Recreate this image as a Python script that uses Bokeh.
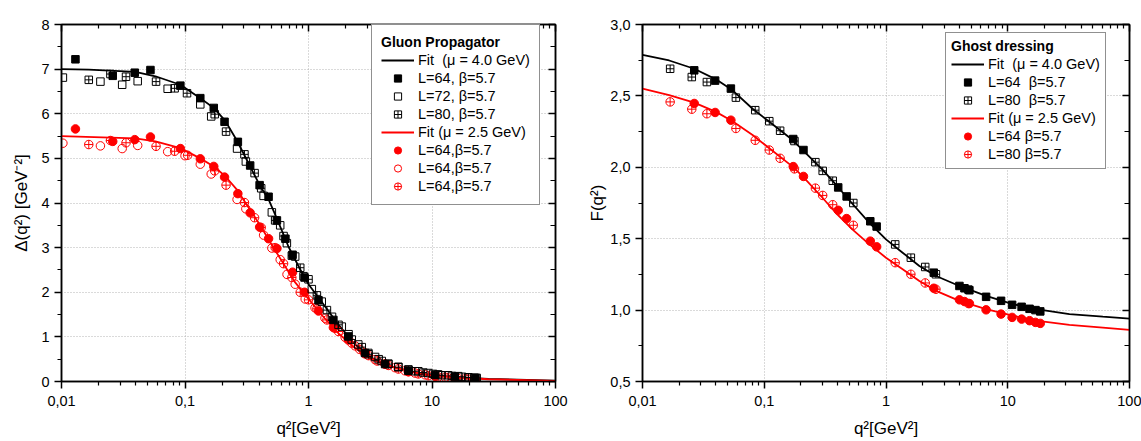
from bokeh.plotting import figure
from bokeh.models import (FixedTicker, LogAxis, LinearAxis, CustomJSTickFormatter,
                          Legend, LegendItem, Range1d)
from bokeh.layouts import row
from bokeh.embed import file_html
from bokeh.resources import INLINE

FONT = "Liberation Sans"
BLACK = "#000000"
RED = "#ff0000"

# ---------------- Gluon propagator (left panel) ----------------
fit_g40_q2 = [0.01, 0.01663, 0.0396, 0.0576, 0.0917, 0.133, 0.171, 0.212, 0.263, 0.327,
              0.406, 0.475, 0.555, 0.689, 0.857, 1.0, 1.28, 1.75, 2.38, 3.25, 4.43,
              8.24, 15.3, 28.6, 100]
fit_g40_d = [7.0, 6.99, 6.94, 6.84, 6.65, 6.35, 6.13, 5.84, 5.40, 4.89,
             4.38, 4.08, 3.65, 3.02, 2.51, 2.18, 1.78, 1.27, 0.83, 0.53, 0.35,
             0.17, 0.10, 0.06, 0.02]

fit_g25_q2 = [0.01, 0.0396, 0.0576, 0.0917, 0.133, 0.171, 0.212, 0.263, 0.327, 0.406,
              0.505, 0.647, 0.780, 1.0, 1.28, 1.75, 2.38, 3.25, 4.43, 8.24, 15.3, 28.6, 100]
fit_g25_d = [5.50, 5.45, 5.38, 5.23, 5.00, 4.82, 4.60, 4.30, 3.90, 3.50,
             3.06, 2.58, 2.22, 1.85, 1.49, 1.08, 0.75, 0.50, 0.35, 0.17, 0.10, 0.05, 0.015]

g64_q2 = [0.01297, 0.0260, 0.0392, 0.0525, 0.0917, 0.133, 0.171, 0.209, 0.268, 0.337,
          0.402, 0.475, 0.555, 0.650, 0.743, 0.929, 1.205, 1.59, 2.10, 2.87, 4.17,
          6.44, 10.6, 15.3, 22.5]
g64_d = [7.22, 6.85, 6.92, 6.98, 6.63, 6.35, 6.13, 5.82, 5.37, 4.84,
         4.40, 4.14, 3.61, 3.20, 2.84, 2.33, 1.82, 1.38, 1.01, 0.64, 0.39,
         0.24, 0.146, 0.11, 0.08]

g72_q2 = [0.01026, 0.02066, 0.031, 0.0414, 0.0724, 0.133, 0.163, 0.264, 0.311, 0.433,
          0.505, 0.590, 0.668, 0.780, 0.911, 1.064, 1.28, 1.55, 1.86, 2.11, 2.53,
          3.05, 3.46, 3.92, 4.43, 5.34, 6.44, 7.75, 9.33, 11.2, 13.5, 16.3, 19.7, 23.0]
g72_d = [6.81, 6.72, 6.65, 6.73, 6.56, 6.21, 5.94, 5.22, 4.93, 4.16,
         3.79, 3.50, 3.10, 2.80, 2.36, 2.07, 1.79, 1.45, 1.23, 1.06, 0.83,
         0.64, 0.55, 0.46, 0.40, 0.33, 0.27, 0.23, 0.19, 0.16, 0.14, 0.12, 0.095, 0.08]

g80_q2 = [0.01663, 0.0249, 0.0333, 0.0583, 0.0824, 0.1038, 0.174, 0.215, 0.303, 0.366,
          0.414, 0.537, 0.628, 0.733, 0.857, 1.0, 1.17, 1.41, 1.75, 2.24, 2.70,
          3.06, 3.70, 4.43, 5.34, 6.44, 7.28, 8.5, 10.2, 11.97, 14.5, 17.5, 19.7, 22.0]
g80_d = [6.76, 6.89, 6.83, 6.72, 6.57, 6.46, 5.99, 5.60, 5.09, 4.67,
         4.33, 3.61, 3.26, 2.82, 2.55, 2.29, 1.93, 1.60, 1.27, 0.94, 0.77,
         0.61, 0.50, 0.39, 0.32, 0.26, 0.23, 0.20, 0.17, 0.14, 0.125, 0.105, 0.09, 0.082]

r64_q2 = [0.01297, 0.0260, 0.0392, 0.0525, 0.0917, 0.133, 0.171, 0.209, 0.268, 0.337,
          0.402, 0.475, 0.555, 0.743, 0.929, 1.205, 1.59, 2.10, 2.87, 4.17, 6.44,
          10.6, 15.3, 22.5]
r64_d = [5.66, 5.38, 5.42, 5.48, 5.22, 4.99, 4.82, 4.58, 4.21, 3.78,
         3.46, 3.20, 2.98, 2.45, 2.00, 1.58, 1.21, 0.93, 0.62, 0.39, 0.22,
         0.12, 0.075, 0.045]

r64o_q2 = [0.01026, 0.02066, 0.031, 0.0414, 0.0724, 0.100, 0.133, 0.163, 0.264, 0.311,
           0.433, 0.505, 0.590, 0.670, 0.780, 0.94, 1.13, 1.36, 1.64, 1.98, 2.38,
           2.87, 3.46, 4.17, 5.02, 6.05, 7.28, 8.8, 10.6, 12.8, 15.4, 18.6, 22.0]
r64o_d = [5.34, 5.28, 5.22, 5.29, 5.15, 5.06, 4.87, 4.65, 4.08, 3.87,
          3.28, 2.99, 2.73, 2.40, 2.18, 1.85, 1.65, 1.42, 1.19, 0.99, 0.80,
          0.64, 0.49, 0.39, 0.31, 0.24, 0.19, 0.15, 0.12, 0.095, 0.075, 0.06, 0.047]

r64x_q2 = [0.01663, 0.0249, 0.0333, 0.0583, 0.0824, 0.105, 0.174, 0.215, 0.303, 0.366,
           0.414, 0.537, 0.628, 0.733, 0.857, 1.0, 1.17, 1.41, 1.75, 2.24, 2.60,
           3.06, 3.60, 4.43, 5.34, 6.44, 7.75, 9.33, 11.2, 13.5, 16.3, 19.7]
r64x_d = [5.31, 5.40, 5.35, 5.27, 5.16, 5.07, 4.72, 4.40, 4.01, 3.67,
          3.45, 3.00, 2.64, 2.33, 2.00, 1.83, 1.63, 1.38, 1.12, 0.86, 0.72,
          0.58, 0.46, 0.36, 0.28, 0.22, 0.17, 0.13, 0.10, 0.08, 0.066, 0.052]

# ---------------- Ghost dressing (right panel) ----------------
fit_f_q2 = [0.01, 0.01656, 0.0266, 0.0401, 0.0549, 0.0802, 0.110, 0.171, 0.207, 0.302,
            0.388, 0.532, 0.730, 1.0, 1.37, 1.88, 2.58, 4.01, 6.64, 11.0, 17.1,
            32.1, 60.4, 100]
fit_f40 = [2.788, 2.748, 2.690, 2.616, 2.539, 2.410, 2.319, 2.191, 2.121, 1.982,
           1.878, 1.743, 1.611, 1.495, 1.402, 1.309, 1.239, 1.169, 1.100, 1.042, 1.007,
           0.972, 0.954, 0.940]
fit_f25 = [2.551, 2.505, 2.453, 2.388, 2.323, 2.226, 2.133, 2.005, 1.936, 1.785,
           1.680, 1.564, 1.460, 1.367, 1.286, 1.204, 1.135, 1.065, 1.007, 0.961, 0.926,
           0.896, 0.877, 0.861]

f64_q2 = [0.0266, 0.0395, 0.0532, 0.173, 0.210, 0.405, 0.475, 0.743, 0.838, 2.47,
          4.01, 4.41, 4.84, 6.64, 8.81, 10.86, 13.0, 15.1, 16.9, 18.5]
f64_b = [2.679, 2.607, 2.551, 2.198, 2.121, 1.859, 1.796, 1.622, 1.585, 1.262,
         1.169, 1.153, 1.139, 1.093, 1.065, 1.037, 1.023, 1.009, 1.000, 0.991]
f64_r = [2.447, 2.384, 2.330, 2.005, 1.936, 1.699, 1.641, 1.483, 1.443, 1.153,
         1.072, 1.060, 1.046, 1.002, 0.972, 0.949, 0.937, 0.926, 0.914, 0.907]

f80_q2 = [0.01687, 0.0254, 0.0338, 0.0585, 0.0843, 0.110, 0.135, 0.177, 0.263, 0.302,
          0.365, 0.539, 1.19, 1.60, 2.10, 2.57, 4.75]
f80_b = [2.690, 2.632, 2.597, 2.488, 2.400, 2.323, 2.256, 2.184, 2.036, 1.975,
         1.906, 1.750, 1.460, 1.367, 1.302, 1.251, 1.144]
f80_r = [2.458, 2.407, 2.375, 2.272, 2.189, 2.121, 2.063, 1.989, 1.854, 1.803,
         1.738, 1.594, 1.332, 1.251, 1.190, 1.146, 1.046]

x_major = [0.01, 0.1, 1, 10, 100]
x_minor = [k * 10.0 ** e for e in range(-2, 2) for k in range(2, 10)]

H = 441


def base_figure(width, ylo, yhi, yticks, yminor, ylab, yfmt, borders, ylab_standoff):
    bl, br, bt, bb = borders
    p = figure(width=width, height=H, x_axis_type="log",
               x_range=Range1d(0.01, 100), y_range=Range1d(ylo, yhi),
               output_backend="svg", toolbar_location=None,
               min_border_left=bl, min_border_right=br,
               min_border_top=bt, min_border_bottom=bb)
    p.outline_line_color = BLACK
    p.outline_line_width = 1.5
    p.background_fill_color = "white"
    p.border_fill_color = "white"

    xf = CustomJSTickFormatter(code="return tick.toString().replace('.', ',');")
    yf = CustomJSTickFormatter(code=yfmt)
    blank = CustomJSTickFormatter(code="return '';")

    for ax, tk, fm in ((p.xaxis[0], FixedTicker(ticks=x_major, minor_ticks=x_minor), xf),
                       (p.yaxis[0], FixedTicker(ticks=yticks, minor_ticks=yminor), yf)):
        ax.ticker = tk
        ax.formatter = fm
        ax.axis_line_width = 1.5
        ax.major_tick_line_width = 1.5
        ax.minor_tick_line_width = 1.2
        ax.major_tick_out = 7
        ax.major_tick_in = 0
        ax.minor_tick_out = 4
        ax.minor_tick_in = 0
        ax.major_label_text_font = FONT
        ax.major_label_text_font_size = "14.5px"
        ax.major_label_text_color = BLACK
        ax.axis_label_text_font = FONT
        ax.axis_label_text_font_size = "17px"
        ax.axis_label_text_font_style = "normal"
        ax.axis_label_text_color = BLACK
    p.xaxis[0].axis_label = "q\u00b2[GeV\u00b2]"
    p.xaxis[0].major_label_standoff = 7
    p.xaxis[0].axis_label_standoff = 10
    p.yaxis[0].axis_label = ylab
    p.yaxis[0].major_label_standoff = 5
    p.yaxis[0].axis_label_standoff = ylab_standoff

    top = LogAxis(ticker=FixedTicker(ticks=x_major, minor_ticks=x_minor), formatter=blank,
                  major_tick_in=7, major_tick_out=0, minor_tick_in=4, minor_tick_out=0,
                  major_label_text_font_size="0px", major_label_standoff=0,
                  axis_line_width=1.5, major_tick_line_width=1.5, minor_tick_line_width=1.2)
    right = LinearAxis(ticker=FixedTicker(ticks=yticks, minor_ticks=yminor), formatter=blank,
                       major_tick_in=7, major_tick_out=0, minor_tick_in=5, minor_tick_out=0,
                       major_label_text_font_size="0px", major_label_standoff=0,
                       axis_line_width=1.5, major_tick_line_width=1.5, minor_tick_line_width=1.2)
    p.add_layout(top, "above")
    p.add_layout(right, "right")

    p.xgrid.ticker = FixedTicker(ticks=x_major)
    p.ygrid.ticker = FixedTicker(ticks=yticks)
    for g in (p.xgrid, p.ygrid):
        g.grid_line_color = "#b4b4b4"
        g.grid_line_dash = "1 2"
        g.grid_line_width = 1
    return p


def make_legend(p, title, items, loc, pad):
    lg = Legend(items=items, location=loc, title=title,
                title_text_font=FONT, title_text_font_size="14px", title_text_font_style="bold",
                title_text_color=BLACK, title_standoff=1,
                label_text_font=FONT, label_text_font_size="14.5px", label_text_color=BLACK,
                label_height=18, glyph_height=18, glyph_width=33, label_standoff=4,
                spacing=0, padding=pad, margin=0,
                border_line_color="#222222", border_line_width=1.2,
                background_fill_color="white", background_fill_alpha=1.0)
    p.add_layout(lg, "center")


# ---------- left ----------
p1 = base_figure(570, 0, 8, list(range(0, 9)), [k + 0.5 for k in range(0, 8)],
                 "\u0394(q\u00b2) [GeV\u207b\u00b2]", "return tick.toFixed(0);",
                 (61, 15, 16, 60), 7)

l40 = p1.line(fit_g40_q2, fit_g40_d, line_color=BLACK, line_width=1.8)
l25 = p1.line(fit_g25_q2, fit_g25_d, line_color=RED, line_width=1.8)
s_r64 = p1.scatter(r64_q2, r64_d, marker="circle", size=8.5, fill_color=RED, line_color=RED)
s_r64o = p1.scatter(r64o_q2, r64o_d, marker="circle", size=8.5, fill_color=None, line_color=RED, line_width=1)
s_r64x = p1.scatter(r64x_q2, r64x_d, marker="circle_cross", size=8.5, fill_color=None, line_color=RED, line_width=1)
s_g64 = p1.scatter(g64_q2, g64_d, marker="square", size=7.5, fill_color=BLACK, line_color=BLACK)
s_g72 = p1.scatter(g72_q2, g72_d, marker="square", size=7.5, fill_color=None, line_color=BLACK, line_width=1)
s_g80 = p1.scatter(g80_q2, g80_d, marker="square_cross", size=7.5, fill_color=None, line_color=BLACK, line_width=1)

make_legend(p1, "Gluon Propagator", [
    LegendItem(label="Fit \u00a0(\u03bc = 4.0 GeV)", renderers=[l40]),
    LegendItem(label="L=64, \u03b2=5.7", renderers=[s_g64]),
    LegendItem(label="L=72, \u03b2=5.7", renderers=[s_g72]),
    LegendItem(label="L=80, \u03b2=5.7", renderers=[s_g80]),
    LegendItem(label="Fit (\u03bc = 2.5 GeV)", renderers=[l25]),
    LegendItem(label="L=64,\u03b2=5.7", renderers=[s_r64]),
    LegendItem(label="L=64,\u03b2=5.7", renderers=[s_r64o]),
    LegendItem(label="L=64,\u03b2=5.7", renderers=[s_r64x]),
], (310, 176), 9)

# ---------- right ----------
p2 = base_figure(571, 0.5, 3.0, [0.5, 1.0, 1.5, 2.0, 2.5, 3.0], [0.75, 1.25, 1.75, 2.25, 2.75],
                 "F(q\u00b2)", "return tick.toFixed(1).replace('.', ',');",
                 (72, 12, 24, 60), 0)

m40 = p2.line(fit_f_q2, fit_f40, line_color=BLACK, line_width=1.8)
m25 = p2.line(fit_f_q2, fit_f25, line_color=RED, line_width=1.8)
t_r64 = p2.scatter(f64_q2, f64_r, marker="circle", size=8.5, fill_color=RED, line_color=RED)
t_r80 = p2.scatter(f80_q2, f80_r, marker="circle_cross", size=8.5, fill_color=None, line_color=RED, line_width=1)
t_b64 = p2.scatter(f64_q2, f64_b, marker="square", size=7.5, fill_color=BLACK, line_color=BLACK)
t_b80 = p2.scatter(f80_q2, f80_b, marker="square_cross", size=7.5, fill_color=None, line_color=BLACK, line_width=1)

make_legend(p2, "Ghost dressing", [
    LegendItem(label="Fit \u00a0(\u03bc = 4.0 GeV)", renderers=[m40]),
    LegendItem(label="L=64 \u00a0\u03b2=5.7", renderers=[t_b64]),
    LegendItem(label="L=80 \u00a0\u03b2=5.7", renderers=[t_b80]),
    LegendItem(label="Fit (\u03bc = 2.5 GeV)", renderers=[m25]),
    LegendItem(label="L=64 \u03b2=5.7", renderers=[t_r64]),
    LegendItem(label="L=80 \u03b2=5.7", renderers=[t_r80]),
], (303, 212), 5)

layout = row(p1, p2)
open("out.html", "w").write(file_html(layout, INLINE))
